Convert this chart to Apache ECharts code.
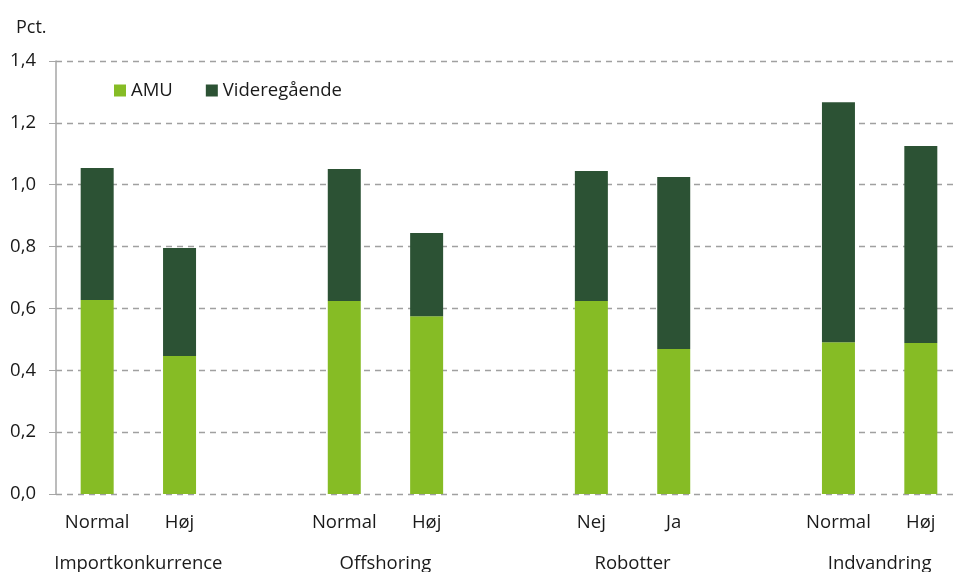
<!DOCTYPE html>
<html><head><meta charset="utf-8">
<script src="https://cdn.jsdelivr.net/npm/echarts@6/dist/echarts.min.js"></script>
<style>html,body{margin:0;padding:0;background:#fff}#c{width:953px;height:572px}</style>
</head><body><div id="c"></div>
<script>
const categories = ['Normal','Høj','','Normal','Høj','','Nej','Ja','','Normal','Høj'];
const groups = ['Importkonkurrence','Offshoring','Robotter','Indvandring'];
const groupPositions = [1,4,7,10];
const amu = [0.627,0.446,null,0.624,0.575,null,0.624,0.469,null,0.491,0.488];
const videregaaende = [0.427,0.349,null,0.427,0.269,null,0.420,0.556,null,0.776,0.637];
const yTicks = [0,0.2,0.4,0.6,0.8,1.0,1.2,1.4];

const font = '"Open Sans", "Noto Sans", sans-serif';
const fs = 18.5;
const chart = echarts.init(document.getElementById('c'));
chart.setOption({
  animation:false,
  textStyle:{fontFamily:font},
  grid:{left:56, top:61, right:-9, bottom:78, containLabel:false, outerBoundsMode:'none'},
  graphic:[{type:'text', left:16, top:19, style:{text:'Pct.', font:'18px '+font, fill:'#1a1a1a'}}],
  legend:{left:114, top:81, padding:0, itemWidth:12, itemHeight:12, itemGap:33, icon:'rect',
    textStyle:{fontSize:fs, color:'#1a1a1a', fontFamily:font},
    data:['AMU','Videregående']},
  xAxis:[{type:'category', data:categories, position:'bottom',
    axisLine:{show:false}, axisTick:{show:false},
    axisLabel:{fontSize:fs, color:'#1a1a1a', margin:19, interval:0}},
   {type:'value', min:0, max:11, interval:1, position:'bottom', offset:42,
    axisLine:{show:false}, axisTick:{show:false}, splitLine:{show:false},
    axisLabel:{fontSize:fs, color:'#1a1a1a', margin:18, showMinLabel:true, showMaxLabel:true,
      formatter:v=>{const i=groupPositions.indexOf(Math.round(v)); return i>=0?groups[i]:'';}}}],
  yAxis:{type:'value', min:0, max:1.4, interval:0.2,
    axisLine:{show:true, lineStyle:{color:'#a6a6a6', width:1.5}},
    axisTick:{show:true, length:7, lineStyle:{color:'#a6a6a6'}},
    splitLine:{show:true, lineStyle:{type:[6,5], color:'#a0a0a0', width:1.3}},
    axisLabel:{fontSize:fs, color:'#1a1a1a', margin:20,
      formatter:v=>v.toFixed(1).replace('.',',')}},
  series:[
    {name:'AMU', type:'bar', stack:'a', barWidth:33, data:amu, itemStyle:{color:'#86bc25'}},
    {name:'Videregående', type:'bar', stack:'a', barWidth:33, data:videregaaende, itemStyle:{color:'#2c5234'}}
  ]
});
</script></body></html>
